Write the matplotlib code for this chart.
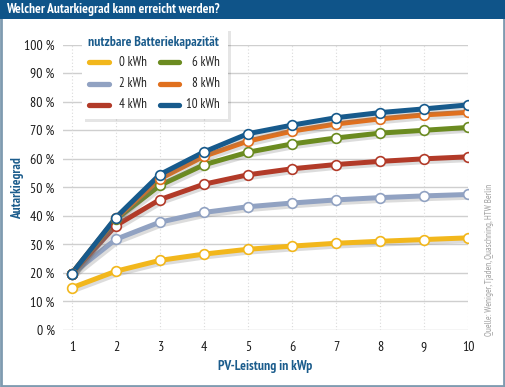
import matplotlib
matplotlib.use("Agg")
import matplotlib.pyplot as plt
import matplotlib.patheffects as pe
from matplotlib.patches import Rectangle
from matplotlib.lines import Line2D
from matplotlib import font_manager

names = {f.name for f in font_manager.fontManager.ttflist}
prefs = ['PT Sans Narrow', 'Fira Sans Condensed', 'Roboto Condensed', 'Open Sans Condensed',
         'Archivo Narrow', 'Encode Sans Condensed', 'Asap Condensed', 'Liberation Sans Narrow']
narrow = next((p for p in prefs if p in names), 'DejaVu Sans')
plt.rcParams['font.family'] = [narrow, 'DejaVu Sans']

pv = [1, 2, 3, 4, 5, 6, 7, 8, 9, 10]
series_labels = ['0 kWh', '2 kWh', '4 kWh', '6 kWh', '8 kWh', '10 kWh']
s0 = [14.8, 20.6, 24.4, 26.6, 28.3, 29.4, 30.4, 31.1, 31.7, 32.3]
s2 = [19.6, 31.8, 37.8, 41.2, 43.2, 44.5, 45.6, 46.4, 47.0, 47.5]
s4 = [19.8, 36.6, 45.7, 51.1, 54.4, 56.5, 58.0, 59.1, 60.0, 60.7]
s6 = [19.8, 38.8, 50.7, 57.9, 62.3, 65.2, 67.3, 69.0, 70.0, 71.0]
s8 = [19.8, 39.1, 53.0, 60.9, 66.2, 69.7, 72.2, 74.0, 75.4, 76.3]
s10 = [19.8, 39.4, 54.5, 62.4, 68.8, 71.8, 74.4, 76.2, 77.5, 78.9]
series = [s0, s2, s4, s6, s8, s10]
colors = ['#F2B71C', '#91A2C2', '#B23A28', '#6B8B20', '#E0701E', '#175A8C']
yticks = [0, 10, 20, 30, 40, 50, 60, 70, 80, 90, 100]
ytick_labels = [f'{v} %' for v in yticks]

W, H = 506, 387
fig = plt.figure(figsize=(W / 100, H / 100), dpi=100)
fig.patch.set_facecolor('white')


def fx(px):
    return px / W


def fy(py):
    return (H - py) / H


# border and title bar
fig.add_artist(Rectangle((0.002, 0.003), 0.995, 0.994, transform=fig.transFigure,
                         fill=False, edgecolor='#7F9BB0', linewidth=2))
fig.add_artist(Rectangle((0, fy(19)), 1, 19 / H, transform=fig.transFigure,
                         facecolor='#0F5489', edgecolor='none'))
fig.text(fx(6), fy(9.5), 'Welcher Autarkiegrad kann erreicht werden?', color='white',
         fontsize=9.6, fontweight='bold', va='center', ha='left')

ax = fig.add_axes([fx(63), fy(330), (468 - 63) / W, (330 - 44.7) / H])
ax.set_xlim(0.8, 10)
ax.set_ylim(0, 100)
ax.set_yticks(yticks)
ax.set_yticklabels(ytick_labels)
ax.set_xticks(pv)
for s in ax.spines.values():
    s.set_visible(False)
ax.tick_params(length=0, labelsize=10, colors='#1A1A1A')
ax.tick_params(axis='y', pad=6)
ax.tick_params(axis='x', pad=8)
for v in yticks:
    ax.axhline(v, color='#CFCFCF', lw=1, zorder=0)
for v in pv:
    ax.axvline(v, color='#DADADA', lw=0.8, ls=(0, (1, 2)), zorder=0)

for i, (vals, c, lab) in enumerate(zip(series, colors, series_labels)):
    ax.plot(pv, vals, color=c, lw=3.6, solid_capstyle='round', solid_joinstyle='round',
            zorder=2 + i, label=lab,
            path_effects=[pe.SimpleLineShadow(offset=(1.2, -2.0), shadow_color='#777777', alpha=0.25),
                          pe.Normal()])
for i, (vals, c) in enumerate(zip(series, colors)):
    ax.plot(pv, vals, ls='none', marker='o', ms=7, mfc='white', mec=c, mew=1.2, zorder=10 + i)

ax.set_xlabel('PV-Leistung in kWp', color='#1B5C8C', fontsize=9.8, fontweight='bold', labelpad=4)
fig.text(fx(18), fy(188), 'Autarkiegrad', rotation=90, color='#1B5C8C', fontsize=9.5,
         fontweight='bold', va='center', ha='center')

# legend box (drawn manually for exact layout)
fig.add_artist(Rectangle((fx(85), fy(122)), 146 / W, 91 / H, transform=fig.transFigure,
                         facecolor='#000000', alpha=0.10, edgecolor='none', zorder=19))
fig.add_artist(Rectangle((fx(82), fy(119)), 146 / W, 91 / H, transform=fig.transFigure,
                         facecolor='white', edgecolor='none', zorder=20))
fig.text(fx(88), fy(42.5), 'nutzbare Batteriekapazität', color='#1B5C8C', fontsize=9.8,
         fontweight='bold', va='center', ha='left', zorder=21)
row_y = [62, 83.5, 105]
col_h = [(89, 109, 147), (160, 179, 220)]
for i, (c, lab) in enumerate(zip(colors, series_labels)):
    col, row = divmod(i, 3)
    h0, h1, tr = col_h[col]
    y = fy(row_y[row])
    fig.add_artist(Line2D([fx(h0), fx(h1)], [y, y], transform=fig.transFigure, color=c,
                          lw=3.8, solid_capstyle='round', zorder=21))
    fig.text(fx(tr), y, lab, color='#222222', fontsize=9.3, va='center', ha='right', zorder=21)

fig.text(fx(489), fy(260), 'Quelle: Weniger, Tjaden, Quaschning, HTW Berlin', rotation=90,
         color='#A0A0A0', fontsize=6.5, va='center', ha='center')

fig.savefig('out.png', dpi=100)
